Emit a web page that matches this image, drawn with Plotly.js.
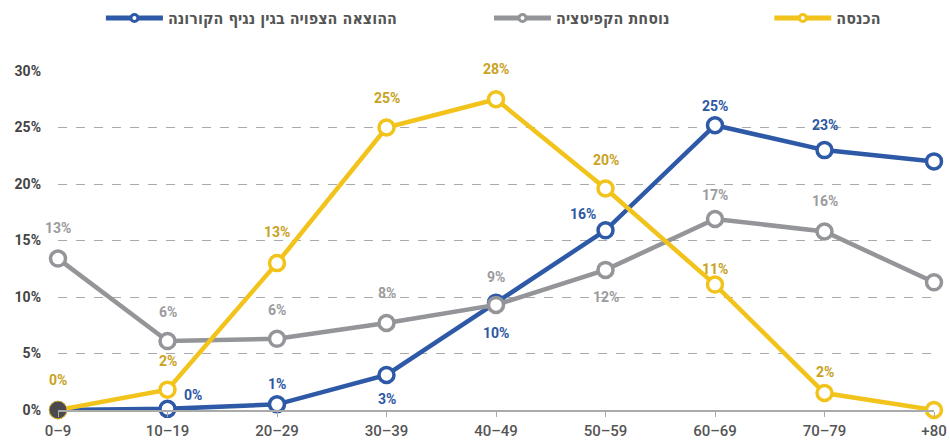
<!DOCTYPE html>
<html>
<head>
<meta charset="utf-8">
<script src="https://cdn.plot.ly/plotly-3.0.1.min.js"></script>
<style>
  html, body { margin: 0; padding: 0; background: #fff; }
  #chart { width: 950px; height: 441px; }
</style>
</head>
<body>
<div id="chart"></div>
<script>
// ---- Data ----
const categories = ['0–9', '10–19', '20–29', '30–39', '40–49', '50–59', '60–69', '70–79', '+80'];
const coronaCost = [0, 0.1, 0.5, 3.1, 9.5, 15.9, 25.2, 23.0, 22.0];
const capacity   = [13.4, 6.1, 6.3, 7.7, 9.3, 12.4, 16.9, 15.8, 11.3];
const income     = [0, 1.8, 13.0, 25.0, 27.5, 19.6, 11.1, 1.5, 0];
const seriesNames = ['ההוצאה הצפויה בגין נגיף הקורונה', 'נוסחת הקפיטציה', 'הכנסה'];
const yTickVals = [0, 5, 10, 15, 20, 25, 30];
const yTickText = ['0%', '5%', '10%', '15%', '20%', '25%', '30%'];

// ---- Styling ----
const FONT = "Roboto, 'DejaVu Sans Condensed', 'DejaVu Sans', sans-serif";
const LEGFONT = "'DejaVu Sans Condensed', 'DejaVu Sans', sans-serif";
const blue = '#2E59A7', gray = '#949599', yellow = '#F2C31B';
const blueText = '#2D57A3', grayText = '#9B9B9E', yellowText = '#C9A21E';

// label offsets in pixels [xshift, yshift]; null = no label
const blueShift   = [null, [25, 14], [0, 20], [0, -24], [0, -30], [-23, 16], [0, 19], [0, 25], [0, 19]];
const grayShift   = [[0, 31], [0, 29], [0, 29], [0, 30], [0, 28], [0, -27], [0, 24], [0, 30], [0, 27]];
const yellowShift = [[0, 30], [0, 29], [0, 31], [0, 30], [0, 30], [0, 29], [0, 16], [0, 21], [0, 30]];

function lineTrace(y, color) {
  return {
    x: categories, y: y, type: 'scatter', mode: 'lines+markers', showlegend: false,
    cliponaxis: false,
    line: { color: color, width: 4.5 },
    marker: { symbol: 'circle', size: 15, color: '#ffffff', line: { color: color, width: 3.5 } },
    hoverinfo: 'skip'
  };
}
function legendTrace(name, color, legend) {
  return {
    x: [null], y: [null], name: name, type: 'scatter', mode: 'lines+markers',
    legend: legend, showlegend: true,
    line: { color: color, width: 5 },
    marker: { symbol: 'circle', size: 7, color: '#ffffff', line: { color: color, width: 3 } },
    hoverinfo: 'skip'
  };
}

const traces = [
  lineTrace(coronaCost, blue),
  lineTrace(capacity, gray),
  lineTrace(income, yellow),
  {
    x: [categories[0]], y: [income[0]], type: 'scatter', mode: 'markers', showlegend: false,
    cliponaxis: false, marker: { size: 17, color: '#4A4A4E' }, hoverinfo: 'skip'
  },
  legendTrace(seriesNames[0], blue, 'legend'),
  legendTrace(seriesNames[1], gray, 'legend2'),
  legendTrace(seriesNames[2], yellow, 'legend3')
];

function labels(values, shifts, color) {
  const out = [];
  values.forEach((v, i) => {
    if (!shifts[i]) return;
    out.push({
      x: categories[i], y: v, xref: 'x', yref: 'y', showarrow: false,
      text: Math.round(v) + '%', xshift: shifts[i][0], yshift: shifts[i][1],
      font: { family: FONT, size: 14, color: color, weight: 'bold' },
      xanchor: 'center', yanchor: 'middle'
    });
  });
  return out;
}

const annotations = [].concat(
  labels(coronaCost, blueShift, blueText),
  labels(capacity, grayShift, grayText),
  labels(income, yellowShift, yellowText)
);

const legendBase = {
  orientation: 'h', yanchor: 'middle', xanchor: 'left', y: 1.156,
  bgcolor: 'rgba(0,0,0,0)', borderwidth: 0, itemwidth: 57,
  font: { family: LEGFONT, size: 16, color: '#555', weight: 'bold' }
};

const layout = {
  width: 950, height: 441,
  margin: { l: 58, r: 16, t: 71, b: 31, pad: 0, autoexpand: false },
  paper_bgcolor: '#fff', plot_bgcolor: '#fff',
  showlegend: true,
  legend:  Object.assign({}, legendBase, { x: 0.049 }),
  legend2: Object.assign({}, legendBase, { x: 0.492 }),
  legend3: Object.assign({}, legendBase, { x: 0.812 }),
  xaxis: {
    type: 'category', range: [0, 8], showgrid: false, zeroline: false,
    showline: true, linecolor: '#AAAAAA', linewidth: 1.5,
    ticks: 'outside', ticklen: 5, tickcolor: '#AAAAAA', tickwidth: 1,
    ticklabelstandoff: 1,
    tickfont: { family: FONT, size: 15, color: '#555', weight: 500 },
    fixedrange: true
  },
  yaxis: {
    range: [0, 30], tickmode: 'array', tickvals: yTickVals, ticktext: yTickText,
    showgrid: true, gridcolor: '#AAAAAA', griddash: 'dash', gridwidth: 1,
    zeroline: false, showline: false, ticks: '', ticklabelstandoff: 16,
    tickfont: { family: FONT, size: 14, color: '#444', weight: 'bold' },
    fixedrange: true
  },
  annotations: annotations
};

Plotly.newPlot('chart', traces, layout, { displayModeBar: false, staticPlot: true });
</script>
</body>
</html>
